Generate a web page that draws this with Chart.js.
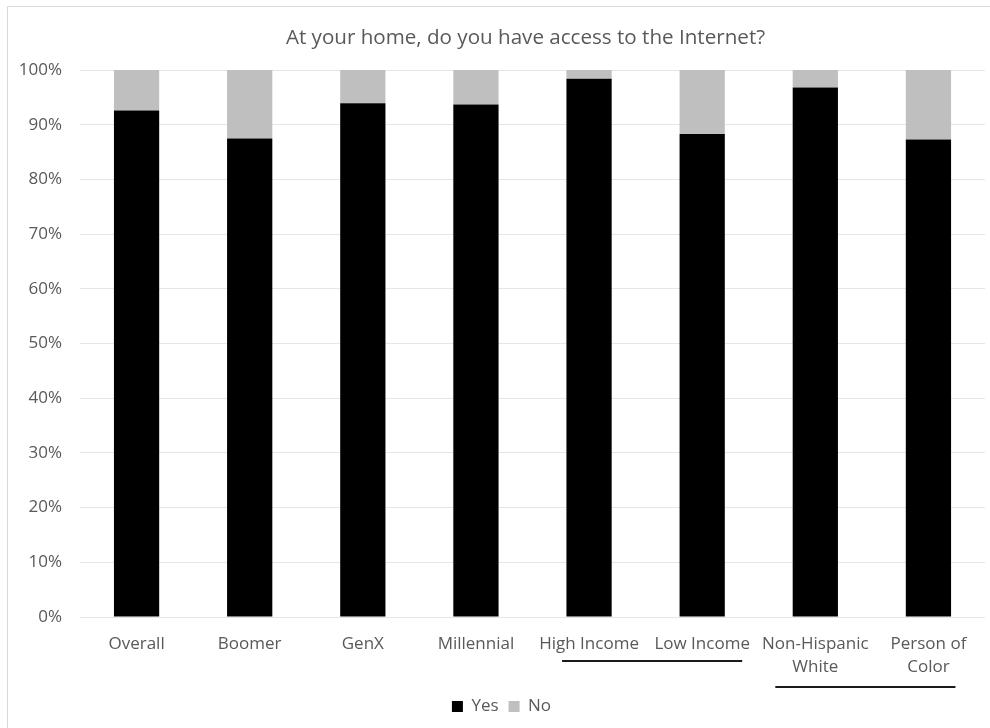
<!DOCTYPE html>
<html>
<head>
<meta charset="utf-8">
<script src="https://cdn.jsdelivr.net/npm/chart.js@4.4.1/dist/chart.umd.min.js"></script>
<style>
  html, body { margin: 0; padding: 0; background: #ffffff; }
  #wrap { position: relative; width: 990px; height: 728px; overflow: hidden; }
  #frame { position: absolute; left: 7px; top: 6px; width: 990px; height: 740px; border: 1px solid #d9d9d9; box-sizing: border-box; }
  canvas { position: absolute; left: 0; top: 0; }
</style>
</head>
<body>
<div id="wrap">
  <div id="frame"></div>
  <canvas id="c" width="990" height="728"></canvas>
</div>
<script>
const chartTitle = 'At your home, do you have access to the Internet?';
const categories = [['Overall'], ['Boomer'], ['GenX'], ['Millennial'], ['High Income'], ['Low Income'], ['Non-Hispanic', 'White'], ['Person of', 'Color']];
const seriesNames = ['Yes', 'No'];
const yesValues = [92.6, 87.5, 93.9, 93.7, 98.4, 88.3, 96.8, 87.3];
const noValues = [7.4, 12.5, 6.1, 6.3, 1.6, 11.7, 3.2, 12.7];
const underlineGroups = [[4, 5], [6, 7]];

const FONT = "'Open Sans', sans-serif";
const TEXT = '#595959';

const decorPlugin = {
  id: 'decor',
  afterDraw(chart) {
    const ctx = chart.ctx;
    const area = chart.chartArea;
    const x = chart.scales.x;
    ctx.save();
    ctx.fillStyle = TEXT;
    ctx.font = "20.6px " + FONT;
    ctx.textAlign = 'center';
    ctx.textBaseline = 'middle';
    ctx.fillText(chartTitle, (area.left + area.right) / 2 - 7, 38);
    ctx.strokeStyle = '#1a1a1a';
    ctx.lineWidth = 2;
    const g1 = underlineGroups[0], g2 = underlineGroups[1];
    ctx.beginPath();
    ctx.moveTo(x.getPixelForValue(g1[0]) - 27, area.bottom + 44);
    ctx.lineTo(x.getPixelForValue(g1[1]) + 40, area.bottom + 44);
    ctx.stroke();
    ctx.beginPath();
    ctx.moveTo(x.getPixelForValue(g2[0]) - 40, area.bottom + 70);
    ctx.lineTo(x.getPixelForValue(g2[1]) + 27, area.bottom + 70);
    ctx.stroke();
    ctx.restore();
  }
};

new Chart(document.getElementById('c'), {
  type: 'bar',
  data: {
    labels: categories,
    datasets: [
      { label: seriesNames[0], data: yesValues, backgroundColor: '#000000', borderWidth: 0, barPercentage: 0.4, categoryPercentage: 1.0 },
      { label: seriesNames[1], data: noValues, backgroundColor: '#bfbfbf', borderWidth: 0, barPercentage: 0.4, categoryPercentage: 1.0 }
    ]
  },
  options: {
    responsive: false,
    animation: false,
    layout: { padding: { left: 18, right: 5, top: 70, bottom: 3 } },
    plugins: {
      title: { display: false },
      tooltip: { enabled: false },
      legend: {
        position: 'bottom',
        labels: { boxWidth: 11, boxHeight: 11, color: TEXT, font: { family: FONT, size: 17 }, padding: 10 }
      }
    },
    scales: {
      x: {
        stacked: true,
        grid: { display: false, drawTicks: false },
        border: { display: false },
        ticks: { color: TEXT, font: { family: FONT, size: 17, lineHeight: 1.35 }, padding: 16, maxRotation: 0, autoSkip: false },
        afterFit(s) { s.height = 71; }
      },
      y: {
        stacked: true,
        min: 0, max: 100,
        grid: { color: '#e6e6e6', drawTicks: false, lineWidth: 1 },
        border: { display: false },
        ticks: { stepSize: 10, color: TEXT, font: { family: FONT, size: 17 }, padding: 18, callback: v => v + '%' },
        afterFit(s) { s.width = 62; }
      }
    }
  },
  plugins: [decorPlugin]
});
</script>
</body>
</html>
